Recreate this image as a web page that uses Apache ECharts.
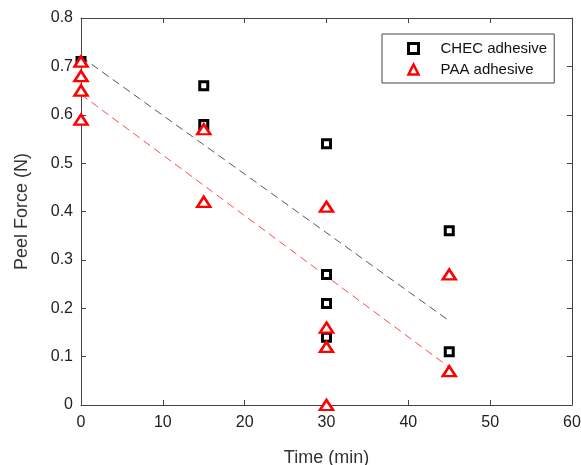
<!DOCTYPE html>
<html><head><meta charset="utf-8">
<script src="https://cdn.jsdelivr.net/npm/echarts@6/dist/echarts.min.js"></script>
<style>html,body{margin:0;padding:0;background:#fff}#c{width:581px;height:465px}</style>
</head><body><div id="c"></div>
<script>
// Data
var chec_time = [0, 15, 15, 30, 30, 30, 30, 45, 45];
var chec_force = [0.71, 0.66, 0.58, 0.54, 0.27, 0.21, 0.14, 0.36, 0.11];
var paa_time = [0, 0, 0, 0, 15, 15, 30, 30, 30, 30, 45, 45];
var paa_force = [0.71, 0.68, 0.65, 0.59, 0.57, 0.42, 0.41, 0.16, 0.12, 0.0, 0.27, 0.07];
var fit_time = [0, 45];
var chec_fit = [0.72, 0.174];
var paa_fit = [0.642, 0.078];
var xTicks = [0, 10, 20, 30, 40, 50, 60];
var yTicks = [0, 0.1, 0.2, 0.3, 0.4, 0.5, 0.6, 0.7, 0.8];

function pairs(xs, ys){ return xs.map(function(x,i){ return [x, ys[i]]; }); }

var axisCol = '#444';
var font = 'Liberation Sans, Arial, sans-serif';
var chart = echarts.init(document.getElementById('c'), null, {renderer:'canvas'});
var baseX = {
  type:'value', min:xTicks[0], max:xTicks[xTicks.length-1], interval:10,
  axisLine:{show:true, onZero:false, lineStyle:{color:axisCol, width:1}},
  axisTick:{show:true, inside:true, length:5, lineStyle:{color:axisCol}},
  splitLine:{show:false}
};
var baseY = {
  type:'value', min:yTicks[0], max:yTicks[yTicks.length-1], interval:0.1,
  axisLine:{show:true, onZero:false, lineStyle:{color:axisCol, width:1}},
  axisTick:{show:true, inside:true, length:5, lineStyle:{color:axisCol}},
  splitLine:{show:false}
};
chart.setOption({
  animation:false,
  backgroundColor:'#fff',
  grid:{left:81, right:9, top:18, bottom:60, containLabel:false, outerBoundsMode:'none'},
  xAxis:[
    Object.assign({}, baseX, {position:'bottom', name:'Time (min)', nameLocation:'middle', nameGap:44,
      nameTextStyle:{fontFamily:font, fontSize:18, color:'#333'},
      axisLabel:{fontFamily:font, fontSize:16, color:'#222', margin:10}}),
    Object.assign({}, baseX, {position:'top', axisLabel:{show:false}})
  ],
  yAxis:[
    Object.assign({}, baseY, {position:'left', name:'Peel Force (N)', nameLocation:'middle', nameGap:50,
      nameTextStyle:{fontFamily:font, fontSize:18, color:'#333'},
      axisLabel:{fontFamily:font, fontSize:16, color:'#222', margin:8, formatter:function(v){return v===0?'0':v.toFixed(1);}}}),
    Object.assign({}, baseY, {position:'right', axisLabel:{show:false}})
  ],
  legend:{
    orient:'vertical', left:382, top:34,
    data:[
      {name:'CHEC adhesive', icon:'rect', itemStyle:{color:'#fff', borderColor:'#000', borderWidth:3}},
      {name:'PAA adhesive', icon:'triangle', itemStyle:{color:'#fff', borderColor:'#ff0000', borderWidth:2.5}}
    ],
    backgroundColor:'#fff', borderColor:'#444', borderWidth:1,
    padding:[7, 7, 6, 25], itemWidth:10, itemHeight:10, itemGap:6,
    textStyle:{fontFamily:font, fontSize:15, color:'#111', lineHeight:14, padding:[0,0,0,17]}
  },
  series:[
    {type:'line', name:'chec_fit', data:pairs(fit_time, chec_fit), showSymbol:false, symbol:'none',
      lineStyle:{color:'#555', width:1, type:[8,5]}, z:1, silent:true},
    {type:'line', name:'paa_fit', data:pairs(fit_time, paa_fit), showSymbol:false, symbol:'none',
      lineStyle:{color:'#ff4a4a', width:1, type:[8,5]}, z:1, silent:true},
    {type:'scatter', name:'CHEC adhesive', data:pairs(chec_time, chec_force), symbol:'rect', symbolSize:8,
      itemStyle:{color:'#fff', borderColor:'#000', borderWidth:3, opacity:1}, z:2},
    {type:'scatter', name:'PAA adhesive', data:pairs(paa_time, paa_force), symbol:'triangle', symbolSize:[13,10],
      itemStyle:{color:'#fff', borderColor:'#ff0000', borderWidth:2.5, opacity:1}, z:3}
  ]
});
</script></body></html>
